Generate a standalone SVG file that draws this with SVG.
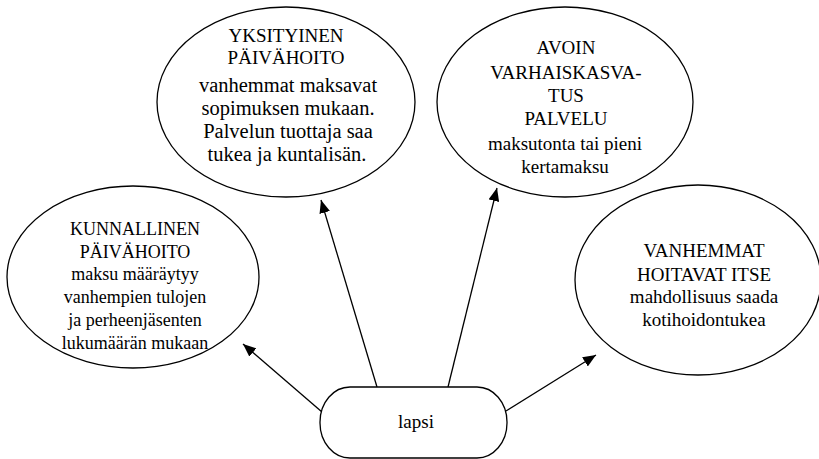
<svg xmlns="http://www.w3.org/2000/svg" width="819" height="459" viewBox="0 0 819 459" font-family="Liberation Serif">
<style>
.shape{fill:#fff;stroke:#000;stroke-width:1.3}
text{fill:#000;text-anchor:middle}
.h{font-size:19px}
.b{font-size:19px}
.conn{stroke:#000;stroke-width:1.3;fill:none;marker-end:url(#arr)}
</style>
<defs>
<marker id="arr" viewBox="0 0 12 10" refX="12" refY="5" markerWidth="13" markerHeight="11" markerUnits="userSpaceOnUse" orient="auto">
<path d="M0,0 L12,5 L0,10 z" fill="#000"/>
</marker>
</defs>
<rect width="819" height="459" fill="#fff"/>
<g id="yksityinen" font-family="Liberation Serif">
<ellipse class="shape" cx="286" cy="102" rx="129" ry="95"/>
<text class="h" x="286" y="42">YKSITYINEN</text>
<text class="h" x="286" y="64">PÄIVÄHOITO</text>
<text style="font-size:20.5px" x="288" y="92">vanhemmat maksavat</text>
<text style="font-size:20.5px" x="288" y="115">sopimuksen mukaan.</text>
<text style="font-size:20.5px" x="288" y="138">Palvelun tuottaja saa</text>
<text style="font-size:20.5px" x="287" y="161">tukea ja kuntalisän.</text>
</g>
<g id="avoin" font-family="Liberation Serif">
<ellipse class="shape" cx="565" cy="102" rx="128" ry="95"/>
<text class="h" x="566" y="54">AVOIN</text>
<text class="h" x="566" y="79">VARHAISKASVA-</text>
<text class="h" x="566" y="102">TUS</text>
<text class="h" x="566" y="125">PALVELU</text>
<text class="b" x="565" y="150">maksutonta tai pieni</text>
<text class="b" x="565" y="173">kertamaksu</text>
</g>
<g id="kunnallinen" font-family="Liberation Serif">
<ellipse class="shape" cx="133" cy="277" rx="126" ry="91"/>
<text style="font-size:18px" x="135" y="235">KUNNALLINEN</text>
<text style="font-size:18px" x="135" y="258">PÄIVÄHOITO</text>
<text style="font-size:18px" x="135" y="280">maksu määräytyy</text>
<text style="font-size:18px" x="135" y="303">vanhempien tulojen</text>
<text style="font-size:18px" x="135" y="326">ja perheenjäsenten</text>
<text style="font-size:18px" x="135" y="349">lukumäärän mukaan</text>
</g>
<g id="vanhemmat" font-family="Liberation Serif">
<ellipse class="shape" cx="698" cy="280" rx="123" ry="95"/>
<text class="b" x="704" y="257">VANHEMMAT</text>
<text class="b" x="704" y="281">HOITAVAT ITSE</text>
<text class="b" x="704" y="303">mahdollisuus saada</text>
<text class="b" x="704" y="326">kotihoidontukea</text>
</g>
<g id="connectors">
<line class="conn" x1="322" y1="412" x2="243" y2="344"/>
<line class="conn" x1="377" y1="387" x2="321" y2="200"/>
<line class="conn" x1="448" y1="387" x2="497" y2="188"/>
<line class="conn" x1="506" y1="411" x2="596" y2="355"/>
</g>
<g id="lapsi" font-family="Liberation Serif">
<rect class="shape" x="320" y="387" width="187" height="71" rx="30" ry="35"/>
<text class="b" x="416" y="428">lapsi</text>
</g>
</svg>
